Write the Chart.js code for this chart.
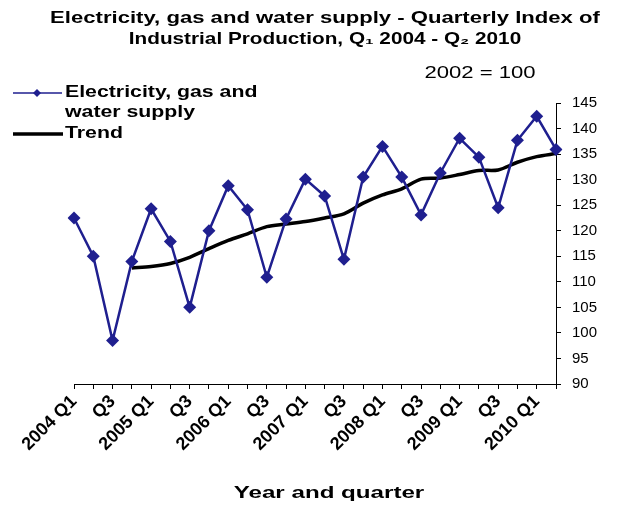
<!DOCTYPE html>
<html>
<head>
<meta charset="utf-8">
<script src="https://cdn.jsdelivr.net/npm/chart.js@4.4.1/dist/chart.umd.min.js"></script>
<style>
html,body{margin:0;padding:0;background:#fff;}
#wrap{width:634px;height:507px;}
</style>
</head>
<body>
<div id="wrap"><canvas id="c" width="634" height="507"></canvas></div>
<script>
const categories = [
  "2004 Q1","2004 Q2","2004 Q3","2004 Q4",
  "2005 Q1","2005 Q2","2005 Q3","2005 Q4",
  "2006 Q1","2006 Q2","2006 Q3","2006 Q4",
  "2007 Q1","2007 Q2","2007 Q3","2007 Q4",
  "2008 Q1","2008 Q2","2008 Q3","2008 Q4",
  "2009 Q1","2009 Q2","2009 Q3","2009 Q4",
  "2010 Q1","2010 Q2"
];
const tickLabels = [
  "2004 Q1","","Q3","","2005 Q1","","Q3","","2006 Q1","","Q3","","2007 Q1","",
  "Q3","","2008 Q1","","Q3","","2009 Q1","","Q3","","2010 Q1",""
];
const supplyValues = [
  122.5, 115.0, 98.5, 114.0,
  124.3, 117.9, 105.0, 120.0,
  128.8, 124.1, 110.9, 122.3,
  130.1, 126.8, 114.4, 130.5,
  136.5, 130.5, 123.1, 131.3,
  138.1, 134.4, 124.5, 137.7,
  142.4, 135.9
];
const trendValues = [
  null, null, null, 112.7,
  113.0, 113.6, 114.8, 116.5,
  118.1, 119.4, 120.8, 121.3,
  121.8, 122.5, 123.3, 125.4,
  127.0, 128.2, 130.1, 130.3,
  131.0, 131.8, 131.9, 133.4,
  134.5, 135.1
];
const yTicks = [90,95,100,105,110,115,120,125,130,135,140,145];

const NAVY = '#1f1f8f';
const FONT = '"Liberation Sans", Arial, sans-serif';

function wideText(ctx, text, x, y, sx, align) {
  ctx.save();
  ctx.translate(x, y);
  ctx.scale(sx, 1);
  ctx.textAlign = align;
  ctx.fillText(text, 0, 0);
  ctx.restore();
}

const textPlugin = {
  id: 'textPlugin',
  afterDraw(chart) {
    const ctx = chart.ctx;
    ctx.save();
    ctx.fillStyle = '#000';
    ctx.textBaseline = 'middle';
    // title
    ctx.font = 'bold 17px ' + FONT;
    wideText(ctx, 'Electricity, gas and water supply - Quarterly Index of', 325, 18, 1.3, 'center');
    wideText(ctx, 'Industrial Production, Q\u2081 2004 - Q\u2082 2010', 325, 39, 1.22, 'center');
    // base note
    ctx.font = '16px ' + FONT;
    wideText(ctx, '2002 = 100', 480, 74, 1.38, 'center');
    // axis title
    ctx.font = 'bold 17px ' + FONT;
    wideText(ctx, 'Year and quarter', 329, 493, 1.42, 'center');
    // legend
    ctx.strokeStyle = NAVY;
    ctx.lineWidth = 1.5;
    ctx.beginPath(); ctx.moveTo(13, 93); ctx.lineTo(62, 93); ctx.stroke();
    ctx.fillStyle = NAVY;
    ctx.beginPath();
    ctx.moveTo(37, 89); ctx.lineTo(41, 93); ctx.lineTo(37, 97); ctx.lineTo(33, 93); ctx.closePath(); ctx.fill();
    ctx.strokeStyle = '#000';
    ctx.lineWidth = 3.5;
    ctx.beginPath(); ctx.moveTo(13, 134); ctx.lineTo(63, 134); ctx.stroke();
    ctx.fillStyle = '#000';
    ctx.font = 'bold 16px ' + FONT;
    wideText(ctx, 'Electricity, gas and', 65, 93, 1.33, 'left');
    wideText(ctx, 'water supply', 65, 113, 1.33, 'left');
    wideText(ctx, 'Trend', 65, 134, 1.33, 'left');
    ctx.restore();
  }
};

new Chart(document.getElementById('c'), {
  type: 'line',
  data: {
    labels: categories,
    datasets: [
      {
        label: 'Electricity, gas and water supply',
        data: supplyValues,
        borderColor: NAVY,
        backgroundColor: NAVY,
        borderWidth: 2.5,
        pointStyle: 'rectRot',
        pointRadius: 6.5,
        pointBorderWidth: 0,
        pointBackgroundColor: NAVY,
        tension: 0,
        order: 1
      },
      {
        label: 'Trend',
        data: trendValues,
        borderColor: '#000',
        borderWidth: 3.5,
        pointRadius: 0,
        tension: 0.3,
        order: 2
      }
    ]
  },
  options: {
    responsive: false,
    animation: false,
    devicePixelRatio: 1,
    layout: { padding: { top: 103, left: 74, right: 10, bottom: 0 } },
    plugins: { legend: { display: false }, title: { display: false }, tooltip: { enabled: false } },
    scales: {
      x: {
        offset: false,
        grid: { display: true, drawOnChartArea: false, color: '#000', tickLength: 5, lineWidth: 1 },
        border: { color: '#000', width: 1 },
        ticks: {
          autoSkip: false,
          maxRotation: 45,
          minRotation: 45,
          color: '#000',
          font: { family: FONT, size: 18, weight: 'bold' },
          padding: 2,
          callback: (v, i) => tickLabels[i]
        },
        afterFit(s) { s.height = 123; }
      },
      y: {
        position: 'right',
        min: 90,
        max: 145,
        afterBuildTicks(s) { s.ticks = yTicks.map(v => ({ value: v })); },
        grid: { display: true, drawOnChartArea: false, color: '#000', tickLength: 5 },
        border: { color: '#000', width: 1 },
        ticks: {
          color: '#000',
          font: { family: FONT, size: 15 },
          padding: 11
        },
        afterFit(s) { s.width = 68; }
      }
    }
  },
  plugins: [textPlugin]
});
</script>
</body>
</html>
